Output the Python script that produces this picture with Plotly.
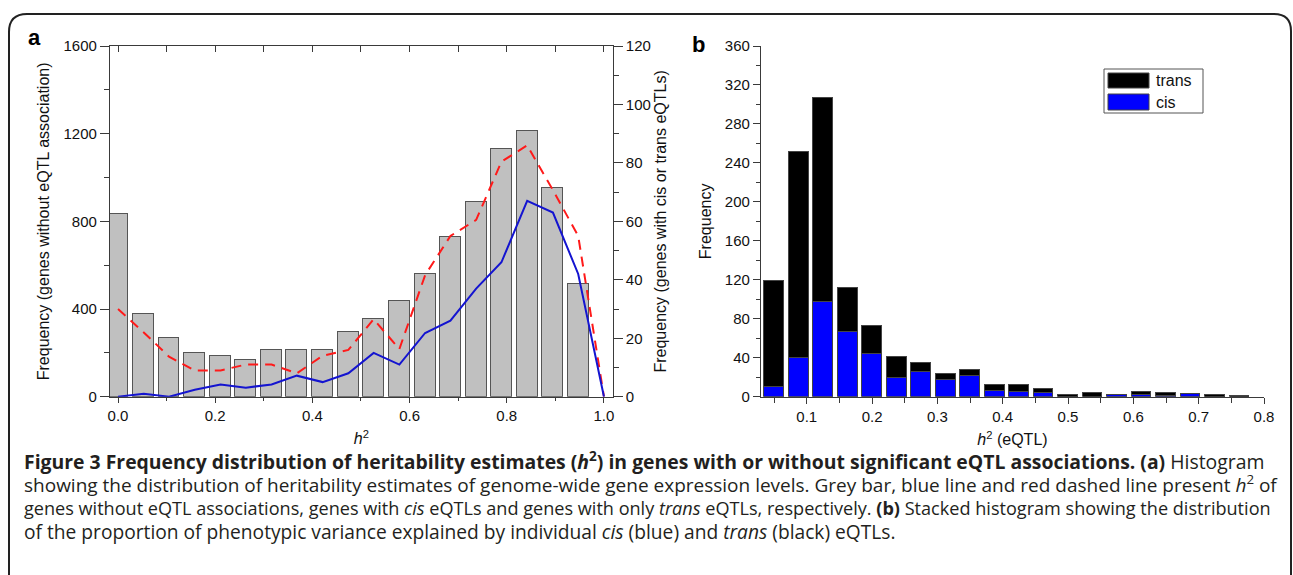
import plotly.graph_objects as go

W, H = 1293, 575

# ---------------- data: panel a ----------------
h2_bins_a = [0.0, 0.053, 0.105, 0.158, 0.211, 0.263, 0.316, 0.368, 0.421, 0.474,
             0.526, 0.579, 0.632, 0.684, 0.737, 0.789, 0.842, 0.895, 0.947]
genes_no_eqtl = [832, 378, 266, 198, 186, 166, 212, 212, 212, 294,
                 354, 438, 558, 728, 888, 1128, 1212, 954, 512]
h2_line_a = [0.0, 0.053, 0.105, 0.158, 0.211, 0.263, 0.316, 0.368, 0.421, 0.474,
             0.526, 0.579, 0.632, 0.684, 0.737, 0.789, 0.842, 0.895, 0.947, 1.0]
genes_trans_only = [30, 22, 13.7, 9, 9, 11, 11, 8, 14, 16,
                    26.5, 16.3, 41.6, 55, 60.5, 80.4, 86, 70.7, 55, 0]
genes_cis = [0, 1, 0, 2.4, 4.2, 3.1, 4.2, 7.2, 5, 8,
             15, 11, 21.8, 26, 37, 46, 67, 63, 42, 0]

# ---------------- data: panel b ----------------
h2_bins_b = [0.05, 0.0875, 0.125, 0.1625, 0.2, 0.2375, 0.275, 0.3125, 0.35, 0.3875,
             0.425, 0.4625, 0.5, 0.5375, 0.575, 0.6125, 0.65, 0.6875, 0.725, 0.7625]
eqtl_cis = [10, 40, 97, 66, 44, 19, 25, 17, 21, 6, 5, 4, 0, 0, 2, 2, 1, 3, 0, 0]
eqtl_trans = [109, 211, 210, 46, 29, 22, 10, 6, 6, 6, 7, 4, 2, 4, 0, 3, 3, 0, 2, 1]

# tick labels
ticks_a_x = [0.0, 0.2, 0.4, 0.6, 0.8, 1.0]
ticks_a_y = [0, 400, 800, 1200, 1600]
ticks_a_y2 = [0, 20, 40, 60, 80, 100, 120]
ticks_b_x = [0.1, 0.2, 0.3, 0.4, 0.5, 0.6, 0.7, 0.8]
ticks_b_y = [0, 40, 80, 120, 160, 200, 240, 280, 320, 360]


def px(x):
    return x / W


def py(y):
    return 1 - y / H


FONT = "Liberation Sans, Arial, sans-serif"
AX = "#3a3a3a"
TICKF = dict(family=FONT, size=15, color="#111")

fig = go.Figure()

# panel a
fig.add_trace(go.Bar(x=h2_bins_a, y=genes_no_eqtl, width=0.043,
                     marker=dict(color="#c0c0c0", line=dict(color="#555555", width=1)),
                     xaxis="x", yaxis="y", name="genes without eQTL", showlegend=False))
fig.add_trace(go.Scatter(x=h2_line_a, y=genes_trans_only, mode="lines",
                         line=dict(color="#ff1a1a", width=2, dash="10px,7px"),
                         xaxis="x", yaxis="y2", name="trans only", showlegend=False))
fig.add_trace(go.Scatter(x=h2_line_a, y=genes_cis, mode="lines",
                         line=dict(color="#1414d0", width=2),
                         xaxis="x", yaxis="y2", name="cis", showlegend=False))
# dummy trace for top mirrored axis with inward ticks
fig.add_trace(go.Scatter(x=[None], y=[None], xaxis="x3", yaxis="y", showlegend=False,
                         hoverinfo="skip"))

# panel b
fig.add_trace(go.Bar(x=h2_bins_b, y=eqtl_cis, width=0.0305,
                     marker=dict(color="#0000ff", line=dict(color="#444444", width=1)),
                     xaxis="x2", yaxis="y3", name="cis", showlegend=False))
fig.add_trace(go.Bar(x=h2_bins_b, y=eqtl_trans, width=0.0305,
                     marker=dict(color="#000000", line=dict(color="#444444", width=1)),
                     xaxis="x2", yaxis="y3", name="trans", showlegend=False))

xa = [px(110), px(612.7)]
ya = [py(396.7), py(46)]
xb = [px(761), px(1264)]

common = dict(showgrid=False, zeroline=False, showline=True, linecolor=AX, linewidth=1.2,
              tickcolor=AX, tickwidth=1.2, tickfont=TICKF, automargin=False)

fig.update_layout(
    width=W, height=H, margin=dict(l=0, r=0, t=0, b=0, pad=0, autoexpand=False),
    paper_bgcolor="white", plot_bgcolor="white",
    barmode="stack", bargap=0,
    font=dict(family=FONT, color="#111"),
    xaxis=dict(domain=xa, range=[-0.0165, 1.018], anchor="y", tickvals=ticks_a_x,
               tickformat=".1f", ticks="outside", ticklen=5,
               minor=dict(dtick=0.1, tick0=0, ticks="outside", ticklen=3, tickcolor=AX),
               title=dict(text="<i>h</i><sup>2</sup>", font=dict(family=FONT, size=16), standoff=10),
               **common),
    xaxis3=dict(domain=xa, range=[-0.0165, 1.018], overlaying="x", side="top", anchor="y",
                dtick=0.1, tick0=0, ticks="inside", ticklen=6, showticklabels=False,
                **common),
    yaxis=dict(domain=ya, range=[0, 1600], anchor="x", tickvals=ticks_a_y,
               ticks="outside", ticklen=9,
               minor=dict(dtick=200, tick0=0, ticks="outside", ticklen=5, tickcolor=AX),
               title=dict(text="Frequency (genes without eQTL association)",
                          font=dict(family=FONT, size=16), standoff=9),
               **common),
    yaxis2=dict(domain=ya, range=[0, 120], anchor="x", overlaying="y", side="right",
                tickvals=ticks_a_y2, ticks="outside", ticklen=9,
                minor=dict(dtick=10, tick0=0, ticks="outside", ticklen=5, tickcolor=AX),
                title=dict(text="Frequency (genes with cis or trans eQTLs)",
                           font=dict(family=FONT, size=16), standoff=4),
                **common),
    xaxis2=dict(domain=xb, range=[0.03, 0.8], anchor="y3", tickvals=ticks_b_x,
                tickformat=".1f", ticks="outside", ticklen=6,
                minor=dict(dtick=0.05, tick0=0, ticks="outside", ticklen=5, tickcolor=AX),
                title=dict(text="<i>h</i><sup>2</sup> (eQTL)", font=dict(family=FONT, size=16),
                           standoff=10),
                **common),
    yaxis3=dict(domain=ya, range=[0, 360], anchor="x2", tickvals=ticks_b_y,
                ticks="outside", ticklen=7,
                minor=dict(dtick=20, tick0=0, ticks="outside", ticklen=4, tickcolor=AX),
                title=dict(text="Frequency", font=dict(family=FONT, size=16), standoff=9),
                **common),
)

shapes = []
# outer rounded frame
frame = (f"M {px(9)},{py(575)} L {px(9)},{py(32)} Q {px(9)},{py(14)} {px(27)},{py(14)} "
         f"L {px(1274)},{py(14)} Q {px(1291)},{py(14)} {px(1291)},{py(31)} L {px(1291)},{py(575)}")
shapes.append(dict(type="path", path=frame, xref="paper", yref="paper",
                   line=dict(color="#222", width=2)))
# legend box for panel b
shapes.append(dict(type="rect", xref="paper", yref="paper", x0=px(1104), x1=px(1203),
                   y0=py(113), y1=py(69), line=dict(color="#555", width=1), fillcolor="white"))
shapes.append(dict(type="rect", xref="paper", yref="paper", x0=px(1108), x1=px(1149),
                   y0=py(88), y1=py(73), line=dict(color="#444", width=1), fillcolor="#000000"))
shapes.append(dict(type="rect", xref="paper", yref="paper", x0=px(1108), x1=px(1149),
                   y0=py(110), y1=py(94), line=dict(color="#444", width=1), fillcolor="#0000ff"))
fig.update_layout(shapes=shapes)

ann = []
ann.append(dict(text="trans", x=px(1154), y=py(80.5), xref="paper", yref="paper",
                xanchor="left", yanchor="middle", showarrow=False,
                font=dict(family=FONT, size=16, color="#111")))
ann.append(dict(text="cis", x=px(1154), y=py(102), xref="paper", yref="paper",
                xanchor="left", yanchor="middle", showarrow=False,
                font=dict(family=FONT, size=16, color="#111")))
ann.append(dict(text="<b>a</b>", x=px(34), y=py(37), xref="paper", yref="paper",
                xanchor="center", yanchor="middle", showarrow=False,
                font=dict(family=FONT, size=22, color="#000")))
ann.append(dict(text="<b>b</b>", x=px(698.5), y=py(44), xref="paper", yref="paper",
                xanchor="center", yanchor="middle", showarrow=False,
                font=dict(family=FONT, size=22, color="#000")))

caption = [
    "<b>Figure 3 Frequency distribution of heritability estimates (<i>h</i><sup>2</sup>) in genes with or without significant eQTL associations. (a)</b> Histogram",
    "showing the distribution of heritability estimates of genome-wide gene expression levels. Grey bar, blue line and red dashed line present <i>h</i><sup>2</sup> of",
    "genes without eQTL associations, genes with <i>cis</i> eQTLs and genes with only <i>trans</i> eQTLs, respectively. <b>(b)</b> Stacked histogram showing the distribution",
    "of the proportion of phenotypic variance explained by individual <i>cis</i> (blue) and <i>trans</i> (black) eQTLs.",
]
cap_y = [460, 484, 508, 531]
cap_size = [19.4, 19.0, 18.1, 19.2]
for t, yy, sz in zip(caption, cap_y, cap_size):
    ann.append(dict(text=t, x=px(22), y=py(yy), xref="paper", yref="paper",
                    xanchor="left", yanchor="middle", showarrow=False,
                    font=dict(family="Open Sans, sans-serif", size=sz, color="#231f20")))
fig.update_layout(annotations=ann)

fig.write_html("out.html",
               config={"displayModeBar": False},
               post_script="document.body.style.margin='0';document.body.style.padding='0';")
